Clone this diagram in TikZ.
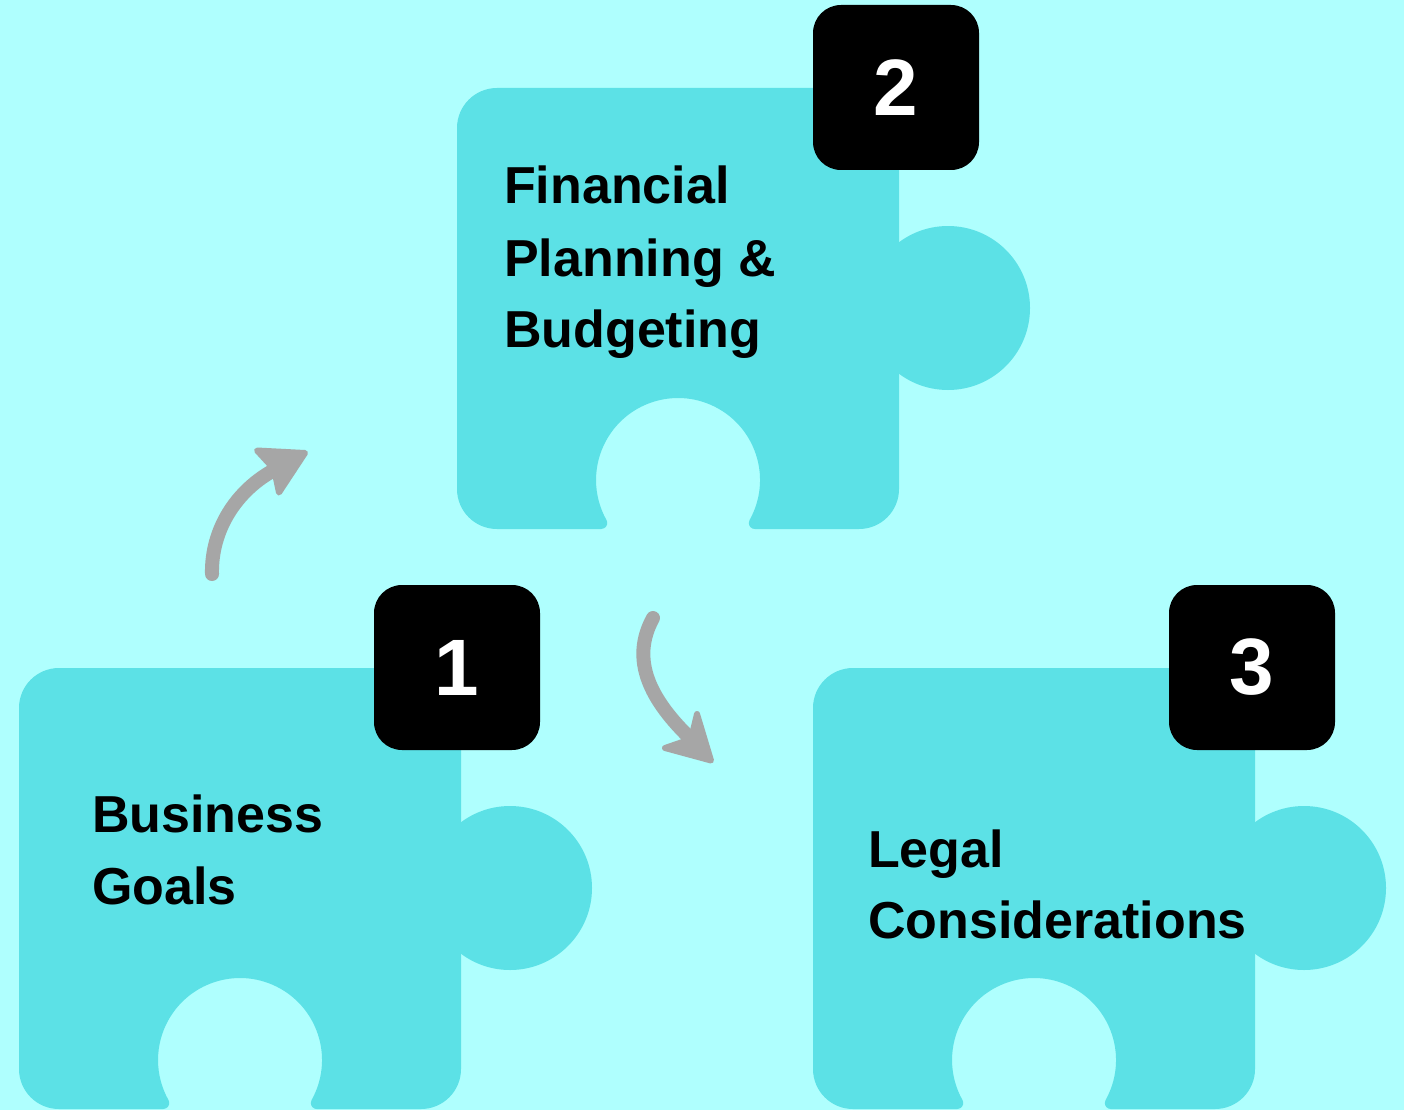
\documentclass[tikz,border=0pt]{standalone}
\usepackage{fontspec}
\setmainfont{Liberation Sans}
\definecolor{bgc}{HTML}{AFFFFE}
\definecolor{piecec}{HTML}{5CE1E6}
\definecolor{arrowc}{HTML}{A6A6A6}
\tikzset{
  puzzle/.pic={
    \fill[piecec] (0,40) arc[start angle=180,end angle=270,radius=40]
      -- (402,0) arc[start angle=270,end angle=360,radius=40]
      -- (442,401) arc[start angle=0,end angle=90,radius=40]
      -- (297.8,441) arc[start angle=90,end angle=209.24,radius=6]
      arc[start angle=29.24,end angle=-209.24,radius=82]
      arc[start angle=-29.24,end angle=90,radius=6]
      -- (40,441) arc[start angle=90,end angle=180,radius=40] -- cycle;
    \fill[piecec] (491,220) circle[radius=82];
  },
  badge/.style={fill=black, text=white, rounded corners=28, minimum width=166pt,
    minimum height=165pt, inner sep=0pt, font=\bfseries\fontsize{80}{80}\selectfont},
  label/.style={anchor=base west, inner sep=0pt, text=black,
    font=\bfseries\fontsize{52}{60}\selectfont},
  flow/.style={draw=arrowc, line width=14pt, line cap=round},
  head/.style={fill=arrowc, draw=arrowc, line width=6pt, line join=round},
}
\begin{document}
\begin{tikzpicture}[x=1pt,y=-1pt]
\fill[bgc] (0,0) rectangle (1404,1110);
\useasboundingbox (0,0) rectangle (1404,1110);

\pic at (19,668) {puzzle};
\pic at (457,88) {puzzle};
\pic at (813,668) {puzzle};

\node[badge] (b1) at (457,667.5) {1};
\node[badge] (b2) at (896,87.5) {2};
\node[badge] (b3) at (1252,667.5) {3};

\node[label] (t2a) at (504,204) {Financial};
\node[label] (t2b) at (504,276) {Planning \&};
\node[label] (t2c) at (504,347) {Budgeting};

\node[label] (t1a) at (92,832) {Business};
\node[label] (t1b) at (92,904) {Goals};

\node[label] (t3a) at (868,867) {Legal};
\node[label] (t3b) at (868,938) {Considerations};

% arrow 1 -> 2
\coordinate (a1s) at (212,574);
\coordinate (a1e) at (276,469);
\draw[flow] (a1s) .. controls (211,530) and (236,490) .. (a1e);
\filldraw[head] (257,450.5) -- (305,453) -- (279,492.5) -- (274,469) -- cycle;

% arrow 2 -> 3
\coordinate (a2s) at (653,618);
\coordinate (a2e) at (692,740);
\draw[flow] (a2s) .. controls (630,660) and (650,700) .. (a2e);
\filldraw[head] (665,748) -- (711,760.5) -- (697,714) -- (691,739) -- cycle;
\end{tikzpicture}
\end{document}
